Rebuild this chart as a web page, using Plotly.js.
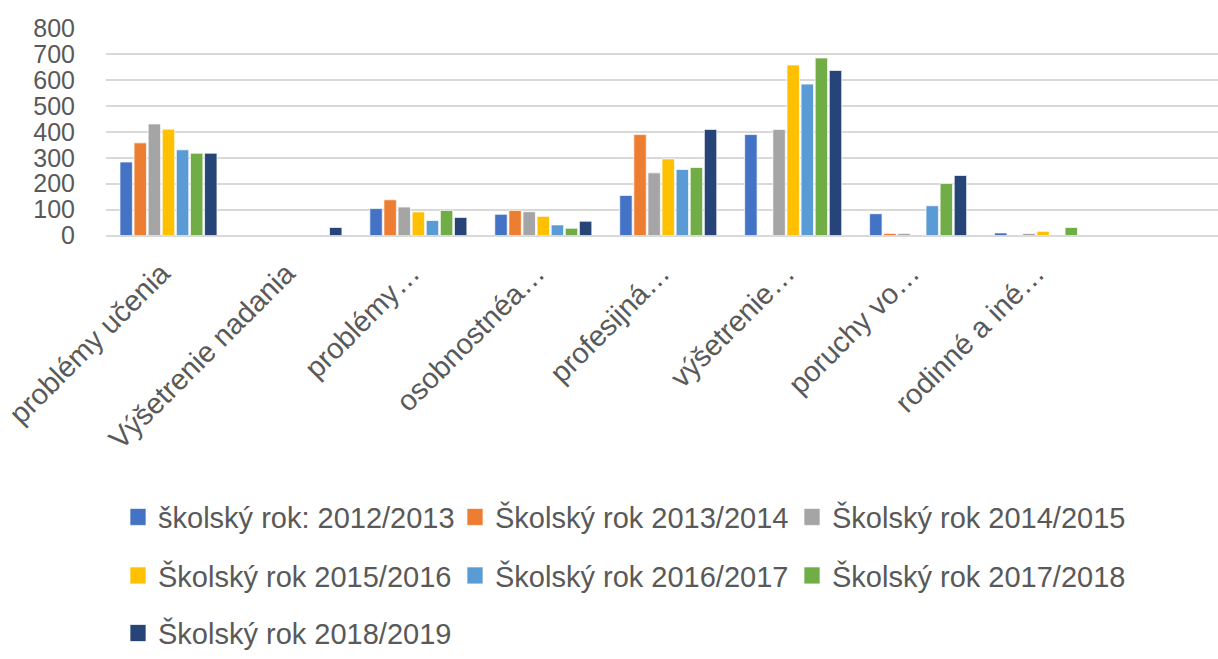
<!DOCTYPE html>
<html>
<head>
<meta charset="utf-8">
<script src="https://cdn.plot.ly/plotly-3.0.1.min.js"></script>
<style>html,body{margin:0;padding:0;background:#fff;}#chart{width:1218px;height:659px;}</style>
</head>
<body>
<div id="chart"></div>
<script>
var categories = ["problémy učenia", "Výšetrenie nadania", "problémy…", "osobnostnéa…", "profesijná…", "výšetrenie…", "poruchy vo…", "rodinné a iné…"];
var seriesNames = ["školský rok: 2012/2013", "Školský rok 2013/2014", "Školský rok 2014/2015", "Školský rok 2015/2016", "Školský rok 2016/2017", "Školský rok 2017/2018", "Školský rok 2018/2019"];
var rok2012 = [284, null, 104, 82, 155, 390, 84, 10];
var rok2013 = [358, null, 138, 97, 390, null, 8, null];
var rok2014 = [431, null, 110, 92, 242, 410, 8, 8];
var rok2015 = [411, null, 91, 74, 296, 659, null, 16];
var rok2016 = [331, null, 58, 41, 255, 585, 115, null];
var rok2017 = [318, null, 97, 28, 263, 686, 201, 31];
var rok2018 = [318, 31, 70, 55, 410, 638, 232, null];
var yTicks = [0, 100, 200, 300, 400, 500, 600, 700, 800];

var seriesValues = [rok2012, rok2013, rok2014, rok2015, rok2016, rok2017, rok2018];
var colors = ["#4472C4", "#ED7D31", "#A5A5A5", "#FFC000", "#5B9BD5", "#70AD47", "#264478"];
var legendIds = ["legend", "legend", "legend", "legend2", "legend2", "legend2", "legend3"];

var FONT = "'Liberation Sans', Arial, sans-serif";
var TXT = "#595959";

var traces = seriesValues.map(function (vals, i) {
  return {
    type: "bar",
    name: seriesNames[i],
    x: categories,
    y: vals,
    marker: { color: colors[i], line: { color: "rgba(255,255,255,0.7)", width: 1 } },
    legend: legendIds[i],
    hoverinfo: "x+y+name"
  };
});

function legendCfg(py) {
  return {
    orientation: "h",
    x: 118 / 1218,
    xanchor: "left",
    y: 1 - py / 659,
    yanchor: "middle",
    font: { family: FONT, size: 29, color: TXT },
    entrywidth: 292,
    entrywidthmode: "pixels",
    bgcolor: "rgba(0,0,0,0)",
    borderwidth: 0
  };
}

var layout = {
  width: 1218,
  height: 659,
  margin: { l: 0, r: 0, t: 0, b: 0 },
  paper_bgcolor: "#ffffff",
  plot_bgcolor: "#ffffff",
  barmode: "group",
  bargap: 0.21,
  bargroupgap: 0.12,
  font: { family: FONT, color: TXT },
  showlegend: true,
  xaxis: {
    domain: [106 / 1218, 1],
    anchor: "y",
    type: "category",
    range: [-0.5, 8.4],
    tickangle: -45,
    tickfont: { family: FONT, size: 29, color: TXT },
    ticklabelstandoff: 14,
    ticklabelshift: -7,
    showgrid: false,
    zeroline: false,
    showline: false,
    ticks: "",
    automargin: false,
    fixedrange: true
  },
  yaxis: {
    domain: [1 - 237.3 / 659, 1 - 28.7 / 659],
    anchor: "x",
    range: [0, 800],
    tickvals: yTicks,
    ticktext: yTicks.map(String),
    tickfont: { family: FONT, size: 25, color: TXT },
    showgrid: true,
    gridcolor: "#D9D9D9",
    gridwidth: 2,
    zeroline: true,
    zerolinecolor: "#D9D9D9",
    zerolinewidth: 2,
    showline: false,
    ticks: "",
    ticklabelstandoff: 30,
    automargin: false,
    fixedrange: true
  },
  legend: legendCfg(521),
  legend2: legendCfg(580),
  legend3: legendCfg(638)
};

Plotly.newPlot("chart", traces, layout, { displayModeBar: false, staticPlot: true }).then(function (gd) {
  // Larger legend swatches, as in the reference
  gd.querySelectorAll(".legendpoints path").forEach(function (p) {
    p.setAttribute("d", "M8,8.5H-8V-8.5H8Z");
  });
});
</script>
</body>
</html>
